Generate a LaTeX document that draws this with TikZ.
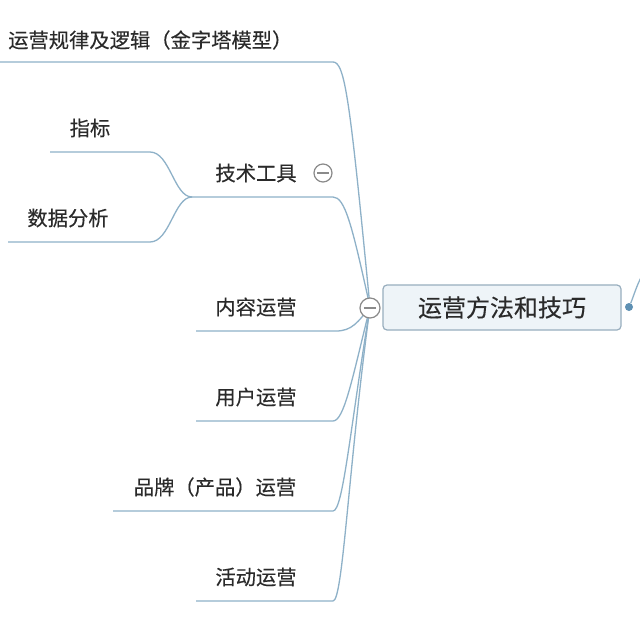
\documentclass[tikz,border=0pt]{standalone}
\usepackage{fontspec}
\setmainfont{Noto Sans CJK SC}[FakeBold=0.25]
\definecolor{lineblue}{HTML}{8EB1C8}
\definecolor{txt}{HTML}{2A2A2A}
\definecolor{boxfill}{HTML}{EEF4F8}
\definecolor{boxborder}{HTML}{98AEBE}
\definecolor{dotblue}{HTML}{5E90B3}
\definecolor{cgray}{HTML}{8A8A8A}
\begin{document}
\begin{tikzpicture}[x=1pt,y=-1pt,
  conn/.style={draw=lineblue, line width=1.3pt},
  lbl/.style={font=\fontsize{20.3}{23}\selectfont, text=txt, inner sep=0pt},
  collapse/.style={circle, draw=cgray, fill=white, line width=1.2pt, minimum size=20pt, inner sep=0pt},
  mainbox/.style={draw=boxborder, fill=boxfill, rounded corners=4pt, line width=1.2pt,
    minimum width=238pt, minimum height=45pt, font=\fontsize{24}{27}\selectfont, text=txt}]
\fill[white] (0,0) rectangle (640,621);
\path[use as bounding box] (0,0) rectangle (640,621);

% main node
\node[mainbox] (main) at (502,307.5) {运营方法和技巧};
\coordinate (hub) at (370,307);

% branch labels
\node[lbl, anchor=west] (t1) at (8,40) {运营规律及逻辑（金字塔模型）};
\node[lbl] (t2) at (256,173) {技术工具};
\node[lbl] (t21) at (90,128) {指标};
\node[lbl] (t22) at (68,218) {数据分析};
\node[lbl] (t3) at (256,307) {内容运营};
\node[lbl] (t4) at (256,397) {用户运营};
\node[lbl] (t5) at (215,487) {品牌（产品）运营};
\node[lbl] (t6) at (256,577) {活动运营};

% underline coordinates
\coordinate (u1a) at (0,62);    \coordinate (u1b) at (333,62);
\coordinate (u2a) at (192,197); \coordinate (u2b) at (333,197);
\coordinate (u21a) at (50,152); \coordinate (u21b) at (150,152);
\coordinate (u22a) at (8,242);  \coordinate (u22b) at (150,242);
\coordinate (u3a) at (196,331); \coordinate (u3b) at (336,331);
\coordinate (u4a) at (196,421); \coordinate (u4b) at (333,421);
\coordinate (u5a) at (113,511); \coordinate (u5b) at (333,511);
\coordinate (u6a) at (196,601); \coordinate (u6b) at (333,601);

% connectors
\draw[conn] (u1a) -- (u1b) .. controls (345,62) and (350,100) .. (hub);
\draw[conn] (u2a) -- (u2b) .. controls (345,197) and (352,225) .. (hub);
\draw[conn] (u21a) -- (u21b) .. controls (170,152) and (174,197) .. (u2a);
\draw[conn] (u22a) -- (u22b) .. controls (170,242) and (174,197) .. (u2a);
\draw[conn] (u3a) -- (u3b) .. controls (352,331) and (358,322) .. (hub);
\draw[conn] (u4a) -- (u4b) .. controls (344,421) and (352,380) .. (hub);
\draw[conn] (u5a) -- (u5b) .. controls (343,511) and (350,430) .. (hub);
\draw[conn] (u6a) -- (u6b) .. controls (343,601) and (348,470) .. (hub);

% collapse buttons
\node[collapse] (c1) at (370,308) {};
\draw[cgray, line width=1.2pt] ([xshift=4.5pt]c1.west) -- ([xshift=-4.5pt]c1.east);
\node[collapse, minimum size=18pt] (c2) at (323,173) {};
\draw[cgray, line width=1.2pt] ([xshift=4pt]c2.west) -- ([xshift=-4pt]c2.east);

% right connector
\node[circle, fill=dotblue, minimum size=8pt, inner sep=0pt] (dot) at (629,307) {};
\coordinate (rt) at (642,276);
\draw[conn] (dot) .. controls (633,298) and (637,284) .. (rt);
\end{tikzpicture}
\end{document}
